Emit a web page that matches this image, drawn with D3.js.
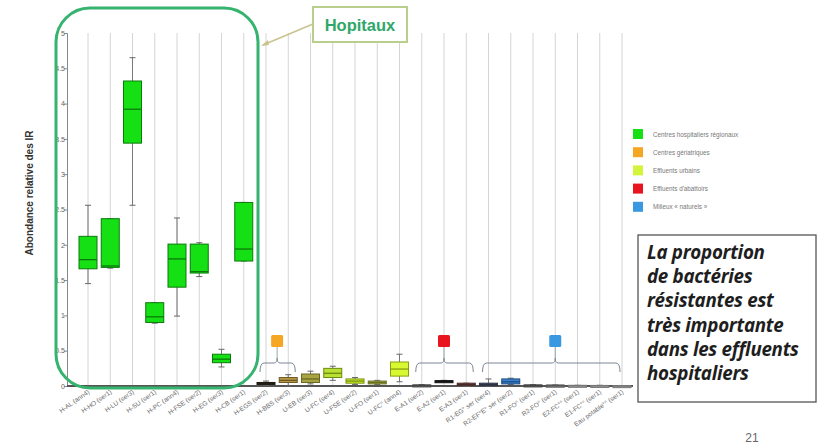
<!DOCTYPE html>
<html><head><meta charset="utf-8">
<script src="https://cdn.jsdelivr.net/npm/d3@7"></script>
<style>
html,body{margin:0;padding:0;background:#fff;}
svg{display:block;}
</style></head>
<body>
<svg id="c" width="821" height="444"></svg>
<script>
// ---------- data ----------
const categories = ["H-AL (ann4)","H-HO (ser1)","H-LU (ser3)","H-SU (ser1)","H-PC (ann4)","H-FSE (ser2)","H-EG (ser3)","H-CB (ser1)",
  "H-EGS (ser2)","H-BBS (ser3)","U-EB (ser3)","U-FC (ser4)","U-FSE (ser2)","U-FO (ser1)","U-FC° (ann4)",
  "E-A1 (ser2)","E-A2 (ser1)","E-A3 (ser1)","R1-EG° ser (ser4)","R2-EF°E° ser (ser2)","R1-FO° (ser1)","R2-FO° (ser1)",
  "E2-FC°° (ser1)","E1-FC°° (ser1)","Eau potable°° (ser1)"];
const whiskerLow  = [1.45,1.67,2.56,0.89,0.99,1.55,0.27,1.77, 0.01,0.00,0.03,0.08,0.02,0.02,0.06, 0.00,0.06,0.00, 0.00,0.02,0.00,0.00, 0.00,0.00,0.00];
const q1          = [1.66,1.68,3.44,0.90,1.40,1.60,0.33,1.77, 0.03,0.05,0.05,0.12,0.04,0.03,0.14, 0.005,0.065,0.01, 0.005,0.03,0.005,0.005, 0.00,0.00,0.00];
const medians     = [1.79,1.70,3.92,0.98,1.80,1.62,0.38,1.94, 0.04,0.08,0.10,0.18,0.07,0.05,0.24, 0.01,0.07,0.02, 0.02,0.06,0.01,0.01, 0.005,0.005,0.00];
const q3          = [2.12,2.37,4.32,1.18,2.01,2.01,0.45,2.60, 0.05,0.12,0.17,0.25,0.10,0.07,0.34, 0.015,0.075,0.04, 0.04,0.10,0.015,0.012, 0.01,0.008,0.005];
const whiskerHigh = [2.56,2.37,4.65,1.18,2.38,2.03,0.52,2.60, 0.07,0.16,0.21,0.28,0.12,0.08,0.45, 0.02,0.08,0.04, 0.10,0.11,0.02,0.015, 0.01,0.01,0.005];
const yTicks = [0,0.5,1,1.5,2,2.5,3,3.5,4,4.5,5];
const legendLabels = ["Centres hospitaliers régionaux","Centres gériatriques","Effluents urbains","Effluents d'abattoirs","Milieux « naturels »"];
// groups with brackets (first / last category index, legend index)
const bracketGroups = [[8,9,1],[15,17,3],[18,24,4]];
const noteLines = ["La proportion","de bactéries","résistantes est","très importante","dans les effluents","hospitaliers"];

// ---------- styles ----------
const legendColors = ["#14e014","#f5a623","#d2f53c","#e8141e","#3a98e0"];
const boxFill = ["#14e014","#14e014","#14e014","#14e014","#14e014","#14e014","#14e014","#14e014",
  "#3a3226","#b99a4a","#a8a444","#b9e132","#c8f02a","#a9b24e","#d8f832",
  "#666666","#222222","#7a4a48","#4c5466","#3d86cf","#5a5a5a","#777777","#999999","#999999","#999999"];
const boxStroke = ["#0b7a0b","#0b7a0b","#0b7a0b","#0b7a0b","#0b7a0b","#0b7a0b","#0b7a0b","#0b7a0b",
  "#1e1a12","#6e5a20","#6a6820","#6a8a10","#7a9010","#6a7020","#8aa010",
  "#444","#111","#4a2a28","#2c3444","#1a4a80","#444","#555","#777","#777","#777"];

const svg = d3.select("#c");
const x = d3.scalePoint().domain(categories).range([88, 622]);
const y = d3.scaleLinear().domain([0,5]).range([386, 33]);

// gridlines
svg.append("g").selectAll("line").data(categories).join("line")
  .attr("x1", d=>x(d)).attr("x2", d=>x(d)).attr("y1", y(5)).attr("y2", y(0))
  .attr("stroke","#d4d4d4").attr("stroke-width",1);

// y axis
const yAxis = svg.append("g").attr("transform","translate(67,0)")
  .call(d3.axisLeft(y).tickValues(yTicks).tickSize(3).tickFormat(d=>String(d)));
yAxis.select(".domain").attr("stroke","#888");
yAxis.selectAll(".tick line").attr("stroke","#888");
yAxis.selectAll("text").attr("font-family","Liberation Sans, Arial, sans-serif").attr("font-size",7).attr("fill","#666").attr("x",-2);

// x axis line
svg.append("line").attr("x1",67).attr("x2",633).attr("y1",y(0)).attr("y2",y(0)).attr("stroke","#555").attr("stroke-width",2);

// x labels
svg.append("g").selectAll("text").data(categories).join("text")
  .attr("transform", d=>`translate(${x(d)+2},${y(0)+7}) rotate(-35)`)
  .attr("text-anchor","end")
  .attr("font-family","Liberation Sans, Arial, sans-serif").attr("font-size",6.5).attr("fill","#6a6a6a")
  .text(d=>d);

// boxes
const bw = 18;
const boxes = svg.append("g").selectAll("g").data(categories).join("g");
boxes.append("line").attr("x1",d=>x(d)).attr("x2",d=>x(d))
  .attr("y1",(d,i)=>y(whiskerLow[i])).attr("y2",(d,i)=>y(whiskerHigh[i])).attr("stroke","#777").attr("stroke-width",1);
boxes.each(function(d,i){
  const g = d3.select(this);
  [whiskerLow[i], whiskerHigh[i]].forEach(v=>{
    g.append("line").attr("x1",x(d)-3).attr("x2",x(d)+3).attr("y1",y(v)).attr("y2",y(v)).attr("stroke","#666").attr("stroke-width",1);
  });
});
boxes.append("rect").attr("x",d=>x(d)-bw/2).attr("width",bw)
  .attr("y",(d,i)=>y(q3[i])).attr("height",(d,i)=>Math.max(2, y(q1[i])-y(q3[i])))
  .attr("fill",(d,i)=>boxFill[i]).attr("stroke",(d,i)=>boxStroke[i]).attr("stroke-width",1);
boxes.append("line").attr("x1",d=>x(d)-bw/2).attr("x2",d=>x(d)+bw/2)
  .attr("y1",(d,i)=>y(medians[i])).attr("y2",(d,i)=>y(medians[i]))
  .attr("stroke",(d,i)=>boxStroke[i]).attr("stroke-width",1.3);

// brackets & markers
const by = 363;
bracketGroups.forEach(([a,b,li])=>{
  const x1 = x(categories[a]) - 6, x2 = x(categories[b]) - 2 + (b===24?0:9);
  const xc = (x(categories[a]) + x(categories[b]))/2;
  const p = `M${x1},${by+9} Q${x1},${by} ${x1+4},${by} L${xc-3},${by} Q${xc},${by} ${xc},${by-5} Q${xc},${by} ${xc+3},${by} L${x2-4},${by} Q${x2},${by} ${x2},${by+9}`;
  svg.append("path").attr("d",p).attr("fill","none").attr("stroke","#7d8796").attr("stroke-width",1);
  svg.append("line").attr("x1",xc).attr("x2",xc).attr("y1",by-5).attr("y2",346).attr("stroke","#9aa").attr("stroke-width",1);
  svg.append("rect").attr("x",xc-6).attr("y",335).attr("width",12).attr("height",12).attr("rx",1.5)
    .attr("fill",legendColors[li]);
});

// legend
const leg = svg.append("g").selectAll("g").data(legendLabels).join("g")
  .attr("transform",(d,i)=>`translate(633,${129+i*18.2})`);
leg.append("rect").attr("width",10).attr("height",10).attr("fill",(d,i)=>legendColors[i]);
leg.append("text").attr("x",20).attr("y",7.5).attr("font-family","Liberation Sans, Arial, sans-serif")
  .attr("font-size",6.3).attr("fill","#777").text(d=>d);

// y title
svg.append("text").attr("transform","translate(33,193) rotate(-90)").attr("text-anchor","middle")
  .attr("font-family","Liberation Sans, Arial, sans-serif").attr("font-size",10).attr("font-weight","bold").attr("fill","#333")
  .text("Abondance relative des IR");

// hospital frame
svg.append("rect").attr("x",56).attr("y",8).attr("width",202).attr("height",380).attr("rx",34)
  .attr("fill","none").attr("stroke","#36b36f").attr("stroke-width",3);
svg.append("line").attr("x1",313).attr("y1",24).attr("x2",263).attr("y2",45).attr("stroke","#c9c48e").attr("stroke-width",1.5);
svg.append("path").attr("d","M261,46 L268,40 L269,45 Z").attr("fill","#c9c48e");
svg.append("rect").attr("x",313).attr("y",7).attr("width",94).attr("height",35)
  .attr("fill","#fff").attr("stroke","#b9cd8c").attr("stroke-width",2);
svg.append("text").attr("x",360).attr("y",31).attr("text-anchor","middle")
  .attr("font-family","Liberation Sans, Arial, sans-serif").attr("font-size",16.5).attr("font-weight","bold").attr("fill","#2ea86a")
  .text("Hopitaux");

// note box
svg.append("rect").attr("x",638).attr("y",235).attr("width",178).attr("height",167)
  .attr("fill","#fff").attr("stroke","#555").attr("stroke-width",1.3);
svg.append("g").selectAll("text").data(noteLines).join("text")
  .attr("x",647).attr("y",(d,i)=>259+i*24.2)
  .attr("font-family","Open Sans, sans-serif").attr("font-size",18.8).attr("font-weight","bold").attr("font-style","italic")
  .attr("letter-spacing",-0.3)
  .attr("fill","#1e1e1e").text(d=>d);

// page number
svg.append("text").attr("x",752).attr("y",442).attr("text-anchor","middle")
  .attr("font-family","Liberation Sans, Arial, sans-serif").attr("font-size",12).attr("fill","#666").text("21");
</script>
</body></html>
